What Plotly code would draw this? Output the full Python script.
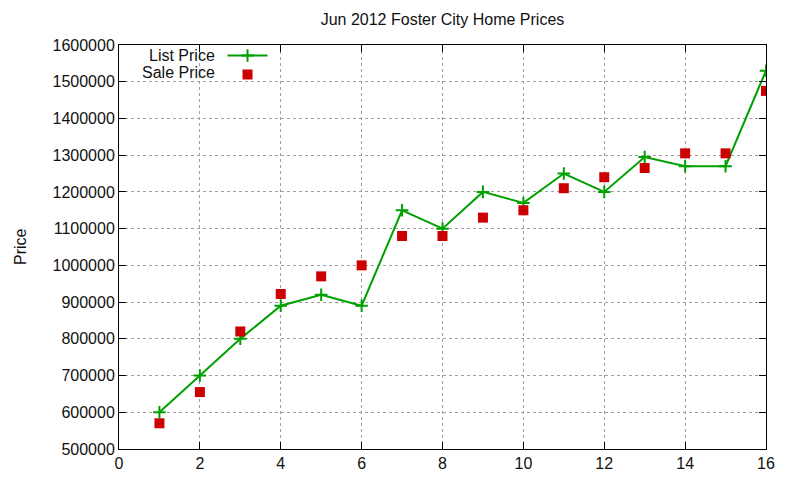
import plotly.graph_objects as go

# Jun 2012 Foster City home prices by listing
listing = list(range(1, 17))
list_price = [600000, 700000, 800000, 890000, 920000, 890000, 1150000, 1100000,
              1200000, 1170000, 1250000, 1200000, 1295000, 1270000, 1270000, 1530000]
sale_price = [570000, 655000, 820000, 922000, 970000, 1000000, 1080000, 1080000,
              1130000, 1150000, 1210000, 1240000, 1265000, 1305000, 1305000, 1475000]
series_names = ["List Price", "Sale Price"]

FONT = "Liberation Sans, Arial, sans-serif"
TXT = "#111111"

fig = go.Figure()

# legend text is drawn as annotations (gnuplot style: text left of the sample)
fig.add_trace(go.Scatter(
    x=listing,
    y=list_price,
    name=" ",
    mode="lines+markers",
    line=dict(color="#00a000", width=2),
    marker=dict(symbol="cross-thin", size=9, line=dict(color="#00a000", width=2)),
))

fig.add_trace(go.Scatter(
    x=listing,
    y=sale_price,
    name=" ",
    mode="markers",
    marker=dict(symbol="square", size=10, color="#cc0000"),
))

axis_style = dict(
    showline=True,
    linecolor="black",
    linewidth=1,
    mirror="allticks",
    ticks="inside",
    ticklen=7,
    tickcolor="black",
    showgrid=True,
    gridcolor="#a0a0a0",
    griddash="dot",
    gridwidth=1,
    zeroline=False,
    automargin=False,
    tickfont=dict(family=FONT, size=16, color=TXT),
)

fig.update_xaxes(range=[0, 16], dtick=2, tick0=0, **axis_style)
fig.update_yaxes(range=[500000, 1600000], dtick=100000, tickformat="d", **axis_style)

# y axis label
fig.add_annotation(
    text="Price", xref="paper", yref="paper", x=0, y=0.5,
    xshift=-99, textangle=-90, xanchor="center", yanchor="middle",
    showarrow=False, font=dict(family=FONT, size=16, color=TXT),
)

for i, name in enumerate(series_names):
    fig.add_annotation(
        text=name, xref="paper", yref="paper",
        x=0.152, y=0.973 - i * 0.04,
        xanchor="right", yanchor="middle", showarrow=False,
        font=dict(family=FONT, size=16, color=TXT),
    )

# page body has an 8px margin, so the figure is shrunk to fit the window
fig.update_layout(
    width=792,
    height=472,
    margin=dict(l=111, r=34, t=37, b=31),
    plot_bgcolor="white",
    paper_bgcolor="white",
    title=dict(
        text="Jun 2012 Foster City Home Prices",
        x=0.5, xref="paper", y=0.975, yanchor="middle",
        font=dict(family=FONT, size=16, color=TXT),
    ),
    legend=dict(
        x=0.16, y=1.01, xanchor="left", yanchor="top",
        bgcolor="rgba(0,0,0,0)",
        font=dict(family=FONT, size=7, color=TXT),
        tracegroupgap=0,
        itemwidth=40,
    ),
    showlegend=True,
)

fig.write_html("out.html")
